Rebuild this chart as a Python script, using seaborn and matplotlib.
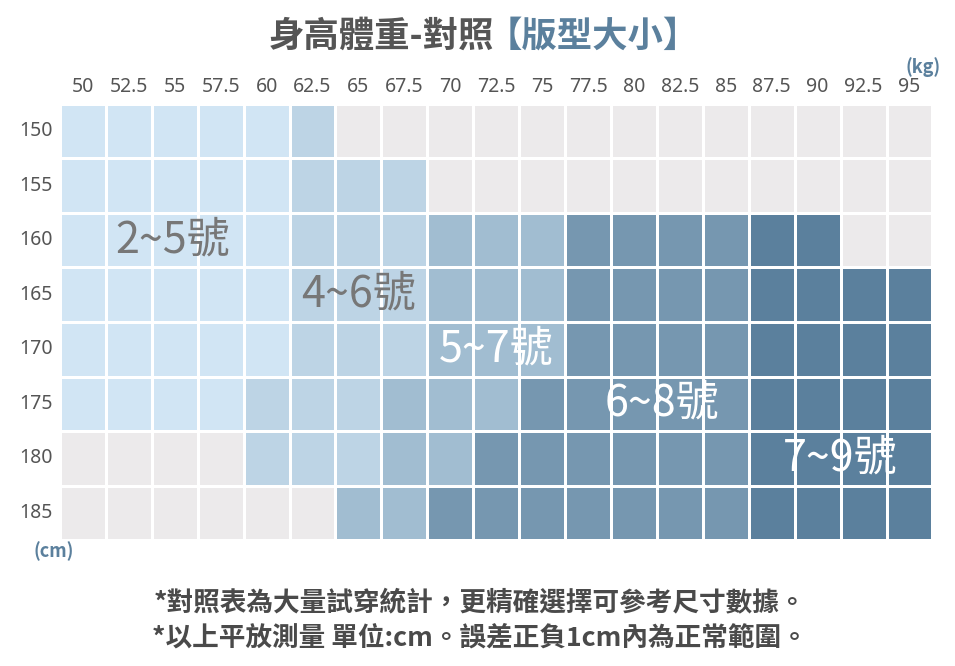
import numpy as np
import pandas as pd
import matplotlib
matplotlib.use("Agg")
import matplotlib.pyplot as plt
import seaborn as sns
from matplotlib.colors import ListedColormap

# weights (kg) across the top, heights (cm) down the side
weights = ["50", "52.5", "55", "57.5", "60", "62.5", "65", "67.5", "70", "72.5",
           "75", "77.5", "80", "82.5", "85", "87.5", "90", "92.5", "95"]
heights = ["150", "155", "160", "165", "170", "175", "180", "185"]

# size group per cell: 0 = none, 1 = 2~5號, 2 = 4~6號, 3 = 5~7號, 4 = 6~8號, 5 = 7~9號
row_150 = [1, 1, 1, 1, 1, 2, 0, 0, 0, 0, 0, 0, 0, 0, 0, 0, 0, 0, 0]
row_155 = [1, 1, 1, 1, 1, 2, 2, 2, 0, 0, 0, 0, 0, 0, 0, 0, 0, 0, 0]
row_160 = [1, 1, 1, 1, 1, 2, 2, 2, 3, 3, 3, 4, 4, 4, 4, 5, 5, 0, 0]
row_165 = [1, 1, 1, 1, 1, 2, 2, 2, 3, 3, 3, 4, 4, 4, 4, 5, 5, 5, 5]
row_170 = [1, 1, 1, 1, 1, 2, 2, 2, 3, 3, 3, 4, 4, 4, 4, 5, 5, 5, 5]
row_175 = [1, 1, 1, 1, 2, 2, 2, 3, 3, 3, 4, 4, 4, 4, 4, 5, 5, 5, 5]
row_180 = [0, 0, 0, 0, 2, 2, 2, 3, 3, 4, 4, 4, 4, 4, 4, 5, 5, 5, 5]
row_185 = [0, 0, 0, 0, 0, 0, 3, 3, 4, 4, 4, 4, 4, 4, 4, 5, 5, 5, 5]

size_labels = ["2~5號", "4~6號", "5~7號", "6~8號", "7~9號"]

grid = pd.DataFrame([row_150, row_155, row_160, row_165, row_170, row_175, row_180, row_185],
                    index=heights, columns=weights)

sns.set_theme(style="white")
plt.rcParams['font.family'] = ['Noto Sans CJK TC', 'DejaVu Sans']

colors = ["#ECEAEB", "#D1E5F4", "#BDD4E5", "#A1BDD1", "#7697B0", "#5B809D"]
cmap = ListedColormap(colors)

fig = plt.figure(figsize=(9.55, 6.66), dpi=100)
ax = fig.add_axes([0.0628, 0.189, 0.9136, 0.655])
sns.heatmap(grid, cmap=cmap, vmin=-0.5, vmax=5.5, cbar=False,
            linewidths=1.0, linecolor="white", ax=ax)

ax.xaxis.tick_top()
ax.tick_params(axis="both", length=0, labelsize=14, labelcolor="#555555", pad=5)
ax.set_xticklabels(weights, rotation=0, family="Noto Sans")
ax.set_yticklabels(heights, rotation=0, family="Noto Sans")
ax.set_xlabel("")
ax.set_ylabel("")

# size group labels inside the grid
label_pos = [(2.45, 2.5), (6.5, 3.5), (9.5, 4.5), (13.1, 5.5), (17.0, 6.5)]
label_col = ["#777777", "#777777", "white", "white", "white"]
for name, (x, y), c in zip(size_labels, label_pos, label_col):
    ax.text(x, y, name, ha="center", va="center", fontsize=31, color=c)

# units
fig.text(0.985, 0.90, "(kg)", ha="right", va="center", fontsize=13,
         color="#5B809D", fontweight="bold")
fig.text(0.056, 0.172, "(cm)", ha="center", va="center", fontsize=13,
         color="#5B809D", fontweight="bold")

# title in two colours, placed side by side and centred as a group
t1 = fig.text(0, 0.946, "身高體重-對照", ha="left", va="center", fontsize=25.5,
              color="#555555", fontweight="bold")
t2 = fig.text(0, 0.946, "【版型大小】", ha="left", va="center", fontsize=25.5,
              color="#5B809D", fontweight="bold")
fig.canvas.draw()
w1 = t1.get_window_extent().width / fig.bbox.width
w2 = t2.get_window_extent().width / fig.bbox.width
gap = -0.008
x0 = 0.507 - (w1 + w2 + gap) / 2
t1.set_x(x0)
t2.set_x(x0 + w1 + gap)

fig.text(0.503, 0.093, "*對照表為大量試穿統計，更精確選擇可參考尺寸數據。", ha="center",
         va="center", fontsize=19.2, color="#4a4a4a", fontweight="bold")
fig.text(0.503, 0.042, "*以上平放測量 單位:cm。誤差正負1cm內為正常範圍。", ha="center",
         va="center", fontsize=19.2, color="#4a4a4a", fontweight="bold")

fig.savefig("out.png", dpi=100)
